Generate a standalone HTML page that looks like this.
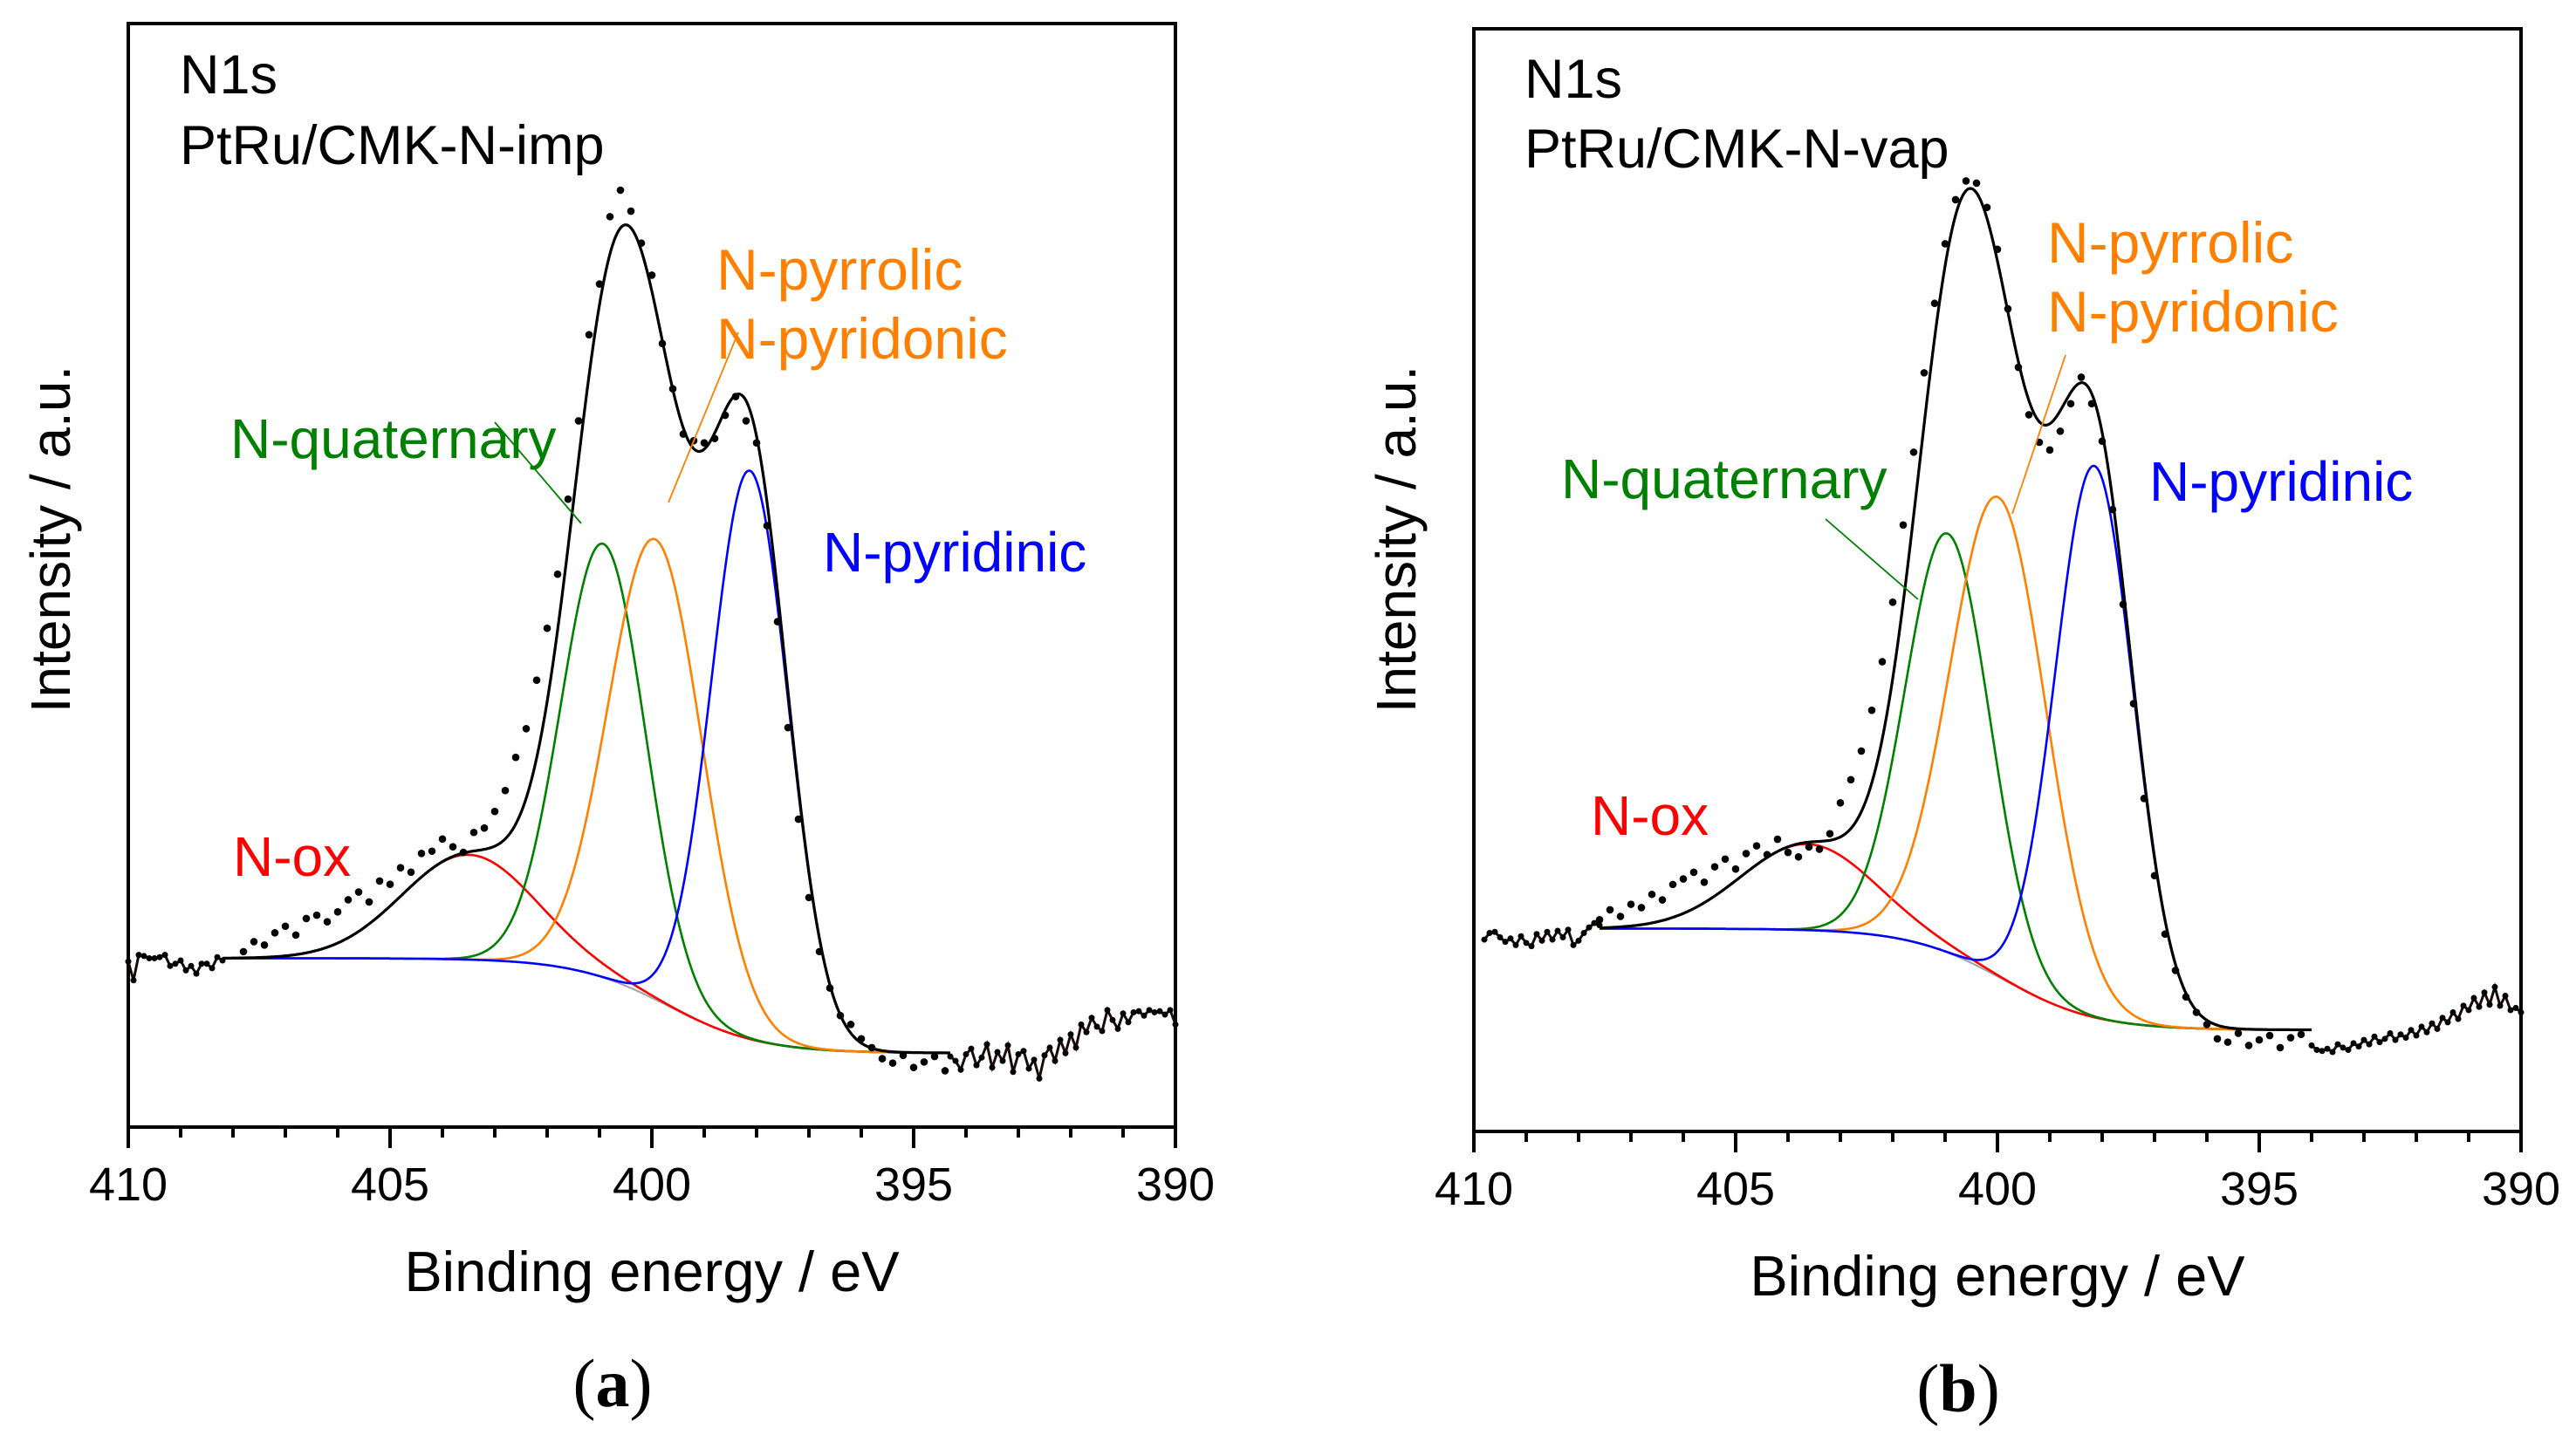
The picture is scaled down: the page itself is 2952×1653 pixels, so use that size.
<!DOCTYPE html>
<html><head><meta charset="utf-8"><style>
html,body{margin:0;padding:0;background:#fff;}
svg{display:block;font-family:"Liberation Sans",Arial,sans-serif;}
</style></head><body>
<svg id="fig" width="2952" height="1653" viewBox="0 0 2952 1653" xmlns="http://www.w3.org/2000/svg">
<rect width="2952" height="1653" fill="#fff"/>
</svg>
<script>
// ---------- data: panel (a) PtRu/CMK-N-imp ----------
const aDotStart = 407.8, aDotStep = 0.2;
const aDots = [15.9,16.8,16.5,17.6,18.2,17.4,18.9,19.2,18.6,19.5,
20.6,21.3,20.4,22.3,22.0,23.5,23.1,24.8,25.0,26.1,
25.4,24.9,26.7,27.1,28.6,30.5,33.5,36.1,40.5,45.2,
50.1,56.9,64.0,71.8,76.4,82.5,84.9,83.0,80.1,77.2,
71.0,66.9,62.8,62.2,62.0,62.4,64.5,66.2,64.0,62.0,
54.5,45.8,36.2,27.9,20.8,15.9,12.6,10.1,9.3,8.0,
7.2,6.2,5.8,6.5,5.4,5.9,6.4,5.1];
const aNoiseLeftStart = 410.0;
const aNoiseLeft = [15.0,13.3,15.6,15.5,15.3,15.3,15.4,15.6,14.6,14.8,15.1,14.2,14.6,13.9,14.8,14.8,14.4,15.4,15.1];
const aNoiseRightStart = 394.3;
const aNoiseRight = [6.4,6.0,5.2,6.6,7.1,5.6,6.3,7.5,5.4,6.8,6.0,7.4,5.0,6.6,6.9,5.3,6.1,4.4,6.5,7.2,
6.0,7.9,6.7,8.4,7.2,9.3,8.6,9.9,9.1,8.7,10.6,9.7,8.9,10.3,9.5,10.4,10.5,10.1,10.6,10.4,10.5,10.2,10.6,9.3];
const aCompNames = ["N-ox","N-quaternary","N-pyrrolic","N-pyridinic"];
const aCenters = [403.5,400.93,399.93,398.13];
const aHeights = [9.5,39.3,41.7,51.5];
const aFwhm = [3.0,1.9,2.1,1.73];
const aBackground = [15.3,6.7,399.7]; // high-BE level, low-BE level, step position

// ---------- data: panel (b) PtRu/CMK-N-vap ----------
const bDotStart = 407.6, bDotStep = 0.2;
const bDots = [19.2,20.1,19.5,20.6,20.3,21.5,21.0,22.4,22.9,23.5,
22.6,24.0,24.7,23.8,25.2,25.9,25.1,26.5,25.3,24.9,
25.8,25.6,27.0,29.8,31.9,34.5,38.2,42.6,48.0,55.0,
61.6,68.8,75.1,80.5,84.5,86.2,86.0,83.8,80.0,74.6,
69.3,65.0,62.5,61.8,63.5,66.0,68.4,66.0,62.6,56.4,
47.8,38.8,30.2,23.2,17.9,14.6,12.2,10.8,9.7,8.4,
8.1,8.9,7.8,8.3,8.7,7.6,8.5,8.8];
const bNoiseLeftStart = 409.8;
const bNoiseLeft = [17.4,18.0,18.1,17.6,17.2,17.5,16.9,17.7,17.1,16.8,17.9,17.3,18.1,17.4,18.2,17.6,18.3,16.9,17.3,18.0,18.5,18.9,18.7];
const bNoiseRightStart = 394.0;
const bNoiseRight = [7.8,7.4,7.3,7.5,7.2,7.9,7.6,7.4,8.0,7.7,8.3,7.9,8.6,8.1,8.4,8.9,8.3,8.8,8.5,9.2,
8.7,9.5,9.0,9.8,9.3,10.3,9.9,10.8,10.2,11.4,11.0,12.1,11.3,12.6,11.5,13.1,11.4,12.3,11.0,11.2,10.8];
const bCenters = [403.63,400.95,399.98,398.15];
const bHeights = [7.8,38,43.5,50];
const bFwhm = [3.0,1.9,2.15,1.75];
const bBackground = [18.4,9.2,399.9];

const xTicks = [410,405,400,395,390];
const compColors = ["#ff0000","#008000","#ff8000","#0000ff"];

const NS = "http://www.w3.org/2000/svg";
const svg = document.getElementById("fig");
function mk(tag, attrs, parent){
  const e = document.createElementNS(NS, tag);
  for (const k in attrs) e.setAttribute(k, attrs[k]);
  (parent||svg).appendChild(e);
  return e;
}

function panel(P){
  const g = mk("g", {});
  
  
  const L = P.left, R = P.left + 1200, T = P.top, B = P.bottom;
  const xs = E => L + (410 - E) / 20 * (R - L);
  const ys = I => B - I / 100 * (B - T);
  const bg = E => P.bgv[1] + (P.bgv[0] - P.bgv[1]) / (1 + Math.exp(-(E - P.bgv[2]) / 0.9));
  const gauss = (i, E) => P.heights[i] * Math.exp(-4 * Math.LN2 * Math.pow((E - P.centers[i]) / P.fwhm[i], 2));
  const env = E => { let s = bg(E); for (let i = 0; i < P.centers.length; i++) s += gauss(i, E); return s; };
  const path = (f, e0, e1) => { let d = ""; for (let E = e0; E >= e1 - 1e-9; E -= 0.02) d += (d ? "L" : "M") + xs(E).toFixed(1) + "," + ys(f(E)).toFixed(1); return d; };
  const e0 = P.fitStart, e1 = P.fitEnd;

  const bgp = mk("path", {d: path(bg, e0, e1), fill: "none", stroke: "#a0a0a0", "stroke-width": 2}, g);
  
  
  for (let i = 0; i < P.centers.length; i++) {
    const c = mk("path", {d: path(E => bg(E) + gauss(i, E), e0, e1), fill: "none", stroke: compColors[i], "stroke-width": 2.6}, g);
    
    
  }
  const noisePath = (start, vals) => vals.map((v, k) => (k ? "L" : "M") + xs(start - k * 0.1).toFixed(1) + "," + ys(v).toFixed(1)).join("");
  const nl = mk("path", {d: noisePath(P.nlStart, P.nl), fill: "none", stroke: "#1a0a0a", "stroke-width": 3}, g);
  
  
  const nr = mk("path", {d: noisePath(P.nrStart, P.nr), fill: "none", stroke: "#1a0a0a", "stroke-width": 3}, g);
  
  
  P.nl.forEach((v, k) => { const d = mk("circle", {cx: xs(P.nlStart - k * 0.1), cy: ys(v), r: 3.5, fill: "#000"}, g);   });
  P.nr.forEach((v, k) => { const d = mk("circle", {cx: xs(P.nrStart - k * 0.1), cy: ys(v), r: 3.5, fill: "#000"}, g);   });
  const ep = mk("path", {d: path(env, e0, e1), fill: "none", stroke: "#000", "stroke-width": 3.2}, g);
  
  
  P.dots.forEach((v, k) => {
    const d = mk("circle", {cx: xs(P.dotStart - k * P.dotStep), cy: ys(v), r: 4.3, fill: "#000"}, g);
    
    
  });
  const fr = mk("rect", {x: L, y: T, width: R - L, height: B - T, fill: "none", stroke: "#000", "stroke-width": 4}, g);
  
  
  for (let E = 410; E >= 390; E -= 1) {
    const major = E % 5 === 0;
    const t = mk("line", {x1: xs(E), x2: xs(E), y1: B, y2: B + (major ? 24 : 12), stroke: "#000", "stroke-width": 4}, g);
    
    
  }
  xTicks.forEach(v => {
    const t = mk("text", {x: xs(v), y: B + 84, "text-anchor": "middle", "font-size": 54, fill: "#000"}, g);
    t.textContent = String(v);
    
    
  });
  const xt = mk("text", {x: (L + R) / 2, y: B + 188, "text-anchor": "middle", "font-size": 65, fill: "#000"}, g);
  xt.textContent = "Binding energy / eV";
  
  
  const yt = mk("text", {x: 0, y: 0, "text-anchor": "middle", "font-size": 64, fill: "#000", transform: "translate(" + (L - 67) + "," + 618 + ") rotate(-90)"}, g);
  yt.textContent = "Intensity / a.u.";
  
  
  const cap = mk("text", {x: (L + R) / 2 - 45, y: P.capY, "text-anchor": "middle", "font-size": 78, fill: "#000", "font-family": "Liberation Serif, serif"}, g);
  cap.innerHTML = '(<tspan font-weight="bold">' + P.letter + '</tspan>)';
  
  
  P.labels.forEach(lb => {
    const t = mk("text", {x: lb[1], y: lb[2], "font-size": lb[4] || 62, fill: lb[3]}, g);
    t.textContent = lb[0];
    
    
  });
  P.leaders.forEach(ld => {
    const l = mk("line", {x1: ld[0], y1: ld[1], x2: ld[2], y2: ld[3], stroke: ld[4], "stroke-width": 1.8}, g);
    
    
  });
}

panel({id: "a", left: 147, top: 27, bottom: 1292, letter: "a", capY: 1612,
  dots: aDots, dotStart: aDotStart, dotStep: aDotStep,
  nl: aNoiseLeft, nlStart: aNoiseLeftStart, nr: aNoiseRight, nrStart: aNoiseRightStart,
  centers: aCenters, heights: aHeights, fwhm: aFwhm, bgv: aBackground,
  fitStart: 408.2, fitEnd: 394.3,
  labels: [["N1s",206,107,"#000",63,"core-level-label"],["PtRu/CMK-N-imp",206,188,"#000",63,"sample-label"],
    ["N-pyrrolic",821,332,"#ff8000",66,"label-n-pyrrolic"],["N-pyridonic",821,411,"#ff8000",66,"label-n-pyridonic"],
    ["N-quaternary",264,525,"#008000",64,"label-n-quaternary"],["N-pyridinic",943,655,"#0000ff",64,"label-n-pyridinic"],
    ["N-ox",267,1004,"#ff0000",64,"label-n-ox"]],
  leaders: [[567,484,666,600,"#008000"],[846,381,766,576,"#ff8000"]]
});
panel({id: "b", left: 1689, top: 33, bottom: 1297, letter: "b", capY: 1618,
  dots: bDots, dotStart: bDotStart, dotStep: bDotStep,
  nl: bNoiseLeft, nlStart: bNoiseLeftStart, nr: bNoiseRight, nrStart: bNoiseRightStart,
  centers: bCenters, heights: bHeights, fwhm: bFwhm, bgv: bBackground,
  fitStart: 407.6, fitEnd: 394.0,
  labels: [["N1s",1747,112,"#000",63,"core-level-label"],["PtRu/CMK-N-vap",1747,192,"#000",63,"sample-label"],
    ["N-pyrrolic",2346,301,"#ff8000",66,"label-n-pyrrolic"],["N-pyridonic",2346,380,"#ff8000",66,"label-n-pyridonic"],
    ["N-quaternary",1789,571,"#008000",64,"label-n-quaternary"],["N-pyridinic",2463,574,"#0000ff",64,"label-n-pyridinic"],
    ["N-ox",1823,957,"#ff0000",64,"label-n-ox"]],
  leaders: [[2092,595,2198,687,"#008000"],[2367,407,2306,589,"#ff8000"]]
});
</script>
</body></html>
